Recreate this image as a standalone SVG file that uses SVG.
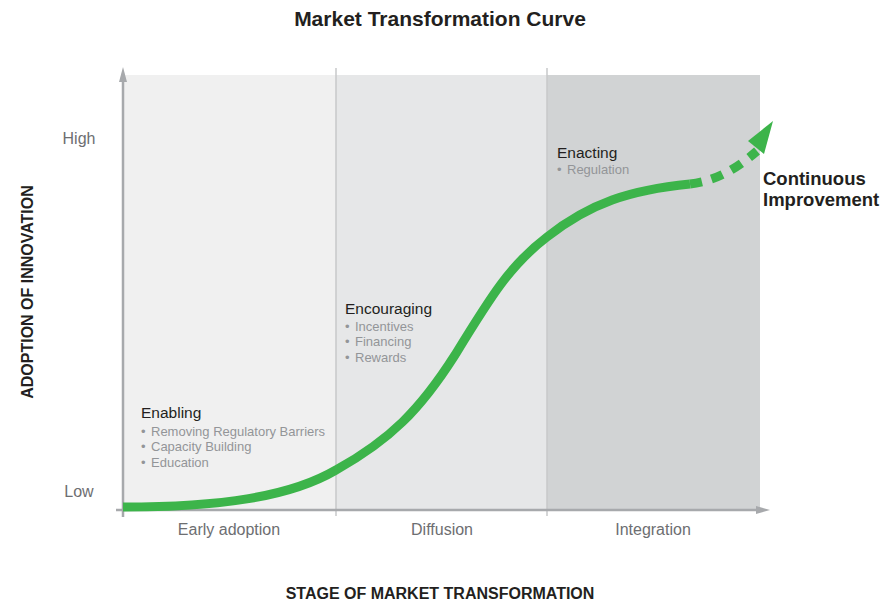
<svg xmlns="http://www.w3.org/2000/svg" width="896" height="601" viewBox="0 0 896 601">
<style>
text{font-family:"Liberation Sans",Arial,sans-serif}
.title{font-size:21px;font-weight:bold;fill:#231f20}
.axl{font-size:16px;font-weight:bold;fill:#231f20}
.lvl{font-size:16px;fill:#6d6e71}
.stage{font-size:16px;fill:#6d6e71}
.head{font-size:15.5px;fill:#231f20}
.bul{font-size:13px;fill:#939598}
.ci{font-size:18.5px;font-weight:bold;fill:#231f20}
.div{stroke:#c7c8ca;stroke-width:1.5}
.axis{stroke:#a7a9ac;stroke-width:2.5;fill:none}
.curve{stroke:#3cb44a;stroke-width:9;fill:none}
</style>
<rect width="896" height="601" fill="#fff"/>
<g id="panels">
<rect x="123" y="75" width="213" height="435" fill="#f0f0f0"/>
<rect x="336" y="75" width="211" height="435" fill="#e6e7e8"/>
<rect x="547" y="75" width="213" height="435" fill="#d1d3d4"/>
<line class="div" x1="336" y1="68" x2="336" y2="516"/>
<line class="div" x1="547" y1="68" x2="547" y2="516"/>
</g>
<g id="axes">
<line class="axis" x1="123" y1="517" x2="123" y2="80"/>
<polygon points="123,67 119,82 127,82" fill="#a7a9ac"/>
<line class="axis" x1="116" y1="510" x2="758" y2="510"/>
<polygon points="770,510 756,506 756,514" fill="#a7a9ac"/>
</g>
<g id="connectors">
<path class="curve" d="M123,507 C220,507 290,497 336,470 C390,440 420,410 455,355 C490,298 510,265 547,237 C590,203 630,190 690,184"/>
<path class="curve" d="M690,184 C715,181 735,170 757,151" stroke-dasharray="12 10"/>
<polygon points="773,121 748,141 764,154" fill="#3cb44a"/>
</g>
<g id="title"><text class="title" x="440" y="26" text-anchor="middle">Market Transformation Curve</text></g>
<g id="y-axis-label"><text class="axl" transform="translate(33,292) rotate(-90)" text-anchor="middle">ADOPTION OF INNOVATION</text></g>
<g id="x-axis-label"><text class="axl" x="440" y="599" text-anchor="middle">STAGE OF MARKET TRANSFORMATION</text></g>
<g id="levels">
<text class="lvl" x="79" y="144" text-anchor="middle">High</text>
<text class="lvl" x="79" y="497" text-anchor="middle">Low</text>
</g>
<g id="stages">
<text class="stage" x="229" y="535" text-anchor="middle">Early adoption</text>
<text class="stage" x="442" y="535" text-anchor="middle">Diffusion</text>
<text class="stage" x="653" y="535" text-anchor="middle">Integration</text>
</g>
<g id="enabling">
<text class="head" x="141" y="418">Enabling</text>
<text class="bul" y="436"><tspan x="141">•</tspan><tspan x="151">Removing Regulatory Barriers</tspan></text>
<text class="bul" y="451"><tspan x="141">•</tspan><tspan x="151">Capacity Building</tspan></text>
<text class="bul" y="467"><tspan x="141">•</tspan><tspan x="151">Education</tspan></text>
</g>
<g id="encouraging">
<text class="head" x="345" y="314">Encouraging</text>
<text class="bul" y="331"><tspan x="345">•</tspan><tspan x="355">Incentives</tspan></text>
<text class="bul" y="346"><tspan x="345">•</tspan><tspan x="355">Financing</tspan></text>
<text class="bul" y="362"><tspan x="345">•</tspan><tspan x="355">Rewards</tspan></text>
</g>
<g id="enacting">
<text class="head" x="557" y="158">Enacting</text>
<text class="bul" y="174"><tspan x="557">•</tspan><tspan x="567">Regulation</tspan></text>
</g>
<g id="continuous">
<text class="ci" x="763" y="185">Continuous</text>
<text class="ci" x="763" y="206">Improvement</text>
</g>
</svg>
